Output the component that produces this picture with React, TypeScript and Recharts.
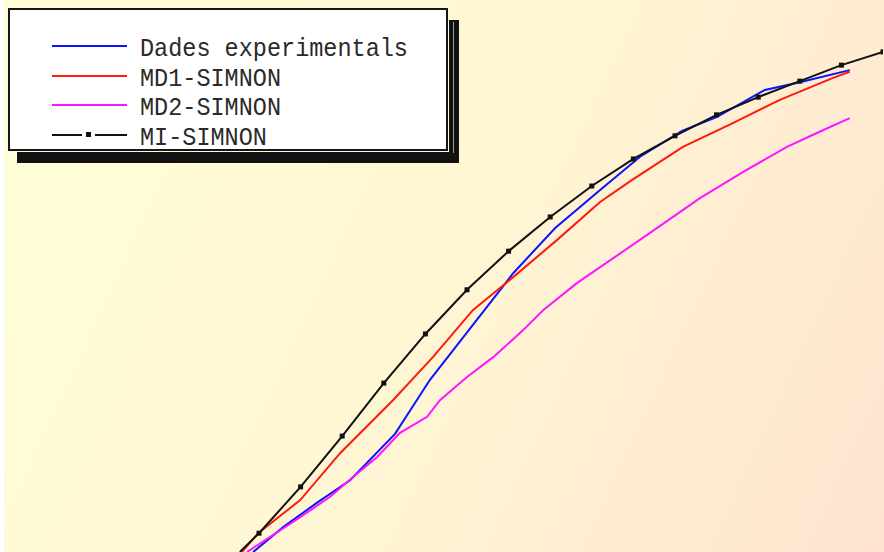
import { LineChart, Line, XAxis, YAxis } from "recharts";

const seriesNames = ["Dades experimentals", "MD1-SIMNON", "MD2-SIMNON", "MI-SIMNON"];
const seriesColors = ["#0a14ff", "#ff1a10", "#ff14ff", "#111111"];

// Dades experimentals
const expT = [4.86, 5.58, 6.39, 7.19, 8.27, 9.11, 11.11, 12.12, 13.2, 14.16, 15.17, 16.0, 17.16, 18.0, 19.2];
const expY = [0, 4.5, 8.9, 13.0, 21.4, 31.2, 50.5, 58.7, 65.6, 71.6, 76.3, 78.8, 83.7, 85.1, 87.3];

// MD1-SIMNON
const md1T = [4.59, 4.98, 5.99, 6.95, 8.22, 9.18, 10.14, 11.11, 12.16, 13.2, 13.97, 15.19, 16.39, 17.52, 18.8, 19.2];
const md1Y = [0, 3.4, 9.4, 17.9, 27.5, 35.3, 43.8, 49.8, 56.5, 63.4, 67.4, 73.4, 77.7, 81.9, 85.9, 87.0];

// MD2-SIMNON
const md2T = [4.71, 5.26, 5.99, 6.71, 7.26, 7.84, 8.39, 9.04, 9.35, 10.0, 10.63, 11.35, 11.83, 12.64, 13.2, 14.4, 15.6, 16.63, 17.69, 18.41, 19.2];
const md2Y = [0, 2.7, 6.3, 10.0, 13.6, 17.2, 21.6, 24.5, 27.5, 31.7, 35.3, 40.2, 43.8, 48.7, 51.6, 57.8, 64.1, 68.8, 73.4, 75.9, 78.6];

// MI-SIMNON (markers on whole steps)
const miT = [4.54, 5, 6, 7, 8, 9, 10, 11, 12, 13, 14, 15, 16, 17, 18, 19, 20];
const miY = [0, 3.4, 11.8, 21.0, 30.6, 39.5, 47.5, 54.5, 60.7, 66.3, 71.2, 75.4, 79.2, 82.4, 85.3, 88.2, 90.6];

const toRows = (t: number[], y: number[]) => t.map((x, i) => ({ t: x, v: y[i] }));

const series = [
  toRows(expT, expY),
  toRows(md1T, md1Y),
  toRows(md2T, md2Y),
  toRows(miT, miY),
];

const W = 884;
const H = 552;

function SquareDot(props: any) {
  const { cx, cy, index, payload } = props;
  if (payload.t < 5 || cx == null) return <g key={`m${index}`} />;
  return <rect key={`m${index}`} x={cx - 2.5} y={cy - 2.5} width={5} height={5} fill="#111" />;
}

function LegendBox() {
  return (
    <div style={{ position: "absolute", left: 0, top: 0, width: 470, height: 170 }}>
      {/* drop shadow */}
      <div style={{ position: "absolute", left: 17, top: 20, width: 442, height: 143, background: "#111" }} />
      <div
        style={{
          position: "absolute",
          left: 453,
          top: 22,
          width: 1,
          height: 131,
          background: "#9a9a9a",
        }}
      />
      <div
        style={{
          position: "absolute",
          left: 8,
          top: 8,
          width: 436,
          height: 139,
          background: "#fff",
          border: "2px solid #161616",
          boxShadow: "0 0 0 1px #fffbd8",
        }}
      />
      {seriesNames.map((name, i) => {
        const y = 46 + i * 29.5;
        const color = seriesColors[i];
        return (
          <div key={name}>
            {i === 3 ? (
              <>
                <div style={{ position: "absolute", left: 52, top: y - 1, width: 30, height: 2, background: color }} />
                <div style={{ position: "absolute", left: 86, top: y - 2.5, width: 5, height: 5, background: color }} />
                <div style={{ position: "absolute", left: 95, top: y - 1, width: 32, height: 2, background: color }} />
              </>
            ) : (
              <div style={{ position: "absolute", left: 52, top: y - 1, width: 75, height: 2, background: color }} />
            )}
            <div
              style={{
                position: "absolute",
                left: 140,
                top: y - 12,
                fontFamily: "'Liberation Mono', 'DejaVu Sans Mono', monospace",
                fontSize: 23.5,
                lineHeight: "28px",
                color: "#2a2a2a",
                whiteSpace: "pre",
                transform: "scaleY(1.12)",
                transformOrigin: "left top",
              }}
            >
              {name}
            </div>
          </div>
        );
      })}
    </div>
  );
}

export default function App() {
  return (
    <div style={{ position: "absolute", left: 0, top: 0, width: W, height: H, background: "#fff", overflow: "hidden" }}>
      <div
        style={{
          position: "absolute",
          left: 4,
          top: 0,
          width: W - 4,
          height: H,
          background: "linear-gradient(115deg, #ffffd6 0%, #fff6d4 50%, #ffe3cf 100%)",
        }}
      />
      <div style={{ position: "absolute", left: 0, top: 0 }}>
        <LineChart width={W} height={H} margin={{ top: 0, right: 1, bottom: 0, left: 51 }}>
          <XAxis type="number" dataKey="t" domain={[0, 20]} hide allowDataOverflow />
          <YAxis type="number" domain={[0, 100]} hide allowDataOverflow />
          {series.map((rows, i) => (
            <Line
              key={seriesNames[i]}
              data={rows}
              dataKey="v"
              name={seriesNames[i]}
              type="linear"
              stroke={seriesColors[i]}
              strokeWidth={2}
              dot={i === 3 ? SquareDot : false}
              activeDot={false}
              isAnimationActive={false}
            />
          ))}
        </LineChart>
      </div>
      <LegendBox />
    </div>
  );
}
